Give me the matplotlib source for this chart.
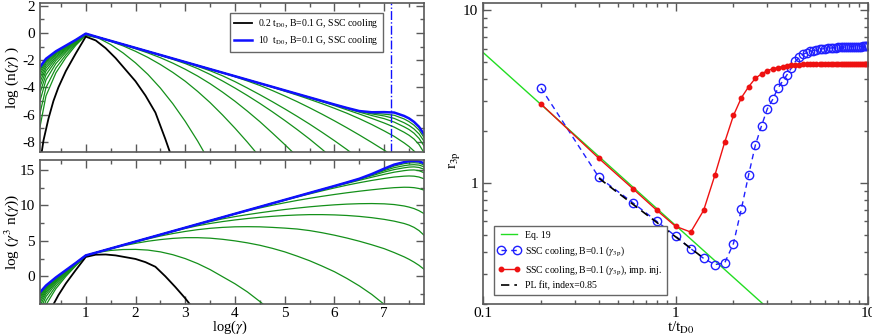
import numpy as np
import matplotlib
matplotlib.use("Agg")
import matplotlib.pyplot as plt
from matplotlib.ticker import MultipleLocator, FixedLocator, FixedFormatter, LogLocator, NullFormatter

plt.rcParams['font.family'] = ['Liberation Serif', 'DejaVu Serif']
plt.rcParams['mathtext.fontset'] = 'stix'
plt.rcParams['axes.unicode_minus'] = False

# ---------------- left panels: electron spectra, values of log(gamma^3 n(gamma)) ----------------
log_gamma = [0.08, 0.2, 0.4, 0.6, 0.8, 1.0, 1.25, 1.5, 1.75, 2.0, 2.25, 2.5, 2.75, 3.0,
             3.25, 3.5, 3.75, 4.0, 4.25, 4.5, 4.75, 5.0, 5.25, 5.5, 5.75, 6.0, 6.25,
             6.5, 6.75, 7.0, 7.2, 7.4, 7.5, 7.6, 7.7, 7.8]

log_gamma_black = [0.08, 0.15, 0.25, 0.35, 0.45, 0.6, 0.8, 1.0, 1.2, 1.4, 1.6, 1.8, 2.0,
                   2.2, 2.4, 2.6, 2.8, 3.0, 3.2]
g3n_black = [-9.36, -7.45, -5.55, -3.95, -2.65, -1.0, 0.9, 2.73, 3.05, 3.08, 2.95, 2.7,
             2.45, 2.0, 1.35, 0.0, -1.5, -3.1, -4.9]

g3n_green_1 = [-6.66, -4.03, -1.73, -0.01, 1.49, 2.82, 3.38, 3.65, 3.78, 3.8, 3.7, 3.45,
               3.05, 2.5, 1.8, 0.95, -0.05, -1.05, -2.2, -3.55, -5.0]
g3n_green_2 = [-5.66, -3.41, -1.37, 0.19, 1.58, 2.85, 3.42, 3.88, 4.3, 4.65, 4.95, 5.18,
               5.35, 5.45, 5.45, 5.38, 5.22, 5.0, 4.72, 4.38, 3.95, 3.45, 2.85, 2.2, 1.45,
               0.65, -0.3, -1.35, -2.55, -3.95, -5.1]
g3n_green_3 = [-4.76, -2.85, -1.05, 0.37, 1.66, 2.87, 3.43, 3.91, 4.38, 4.84, 5.28, 5.68,
               6.03, 6.33, 6.58, 6.77, 6.9, 6.98, 7.0, 6.98, 6.9, 6.8, 6.67, 6.45, 6.15,
               5.8, 5.4, 4.95, 4.45, 3.9, 3.35, 2.75, 2.4, 2.0, 1.55, 1.0]
g3n_green_4 = [-4.16, -2.48, -0.83, 0.49, 1.72, 2.89, 3.43, 3.92, 4.4, 4.89, 5.37, 5.85,
               6.31, 6.75, 7.13, 7.45, 7.72, 7.95, 8.15, 8.32, 8.46, 8.57, 8.65, 8.7, 8.7,
               8.66, 8.58, 8.45, 8.27, 8.03, 7.78, 7.45, 7.22, 6.9, 6.45, 5.8]
g3n_green_5 = [-3.71, -2.2, -0.67, 0.58, 1.76, 2.91, 3.43, 3.92, 4.41, 4.9, 5.39, 5.87,
               6.35, 6.83, 7.29, 7.72, 8.1, 8.42, 8.7, 8.96, 9.2, 9.42, 9.62, 9.8, 9.95,
               10.08, 10.18, 10.24, 10.26, 10.22, 10.12, 9.92, 9.76, 9.55, 9.25, 8.85]
g3n_green_6 = [-3.36, -1.98, -0.55, 0.65, 1.79, 2.92, 3.43, 3.92, 4.41, 4.9, 5.39, 5.88,
               6.37, 6.86, 7.35, 7.83, 8.31, 8.78, 9.22, 9.64, 10.02, 10.37, 10.7, 11.0,
               11.28, 11.54, 11.78, 12.0, 12.2, 12.38, 12.5, 12.56, 12.55, 12.5, 12.38, 12.15]
g3n_green_7 = [-3.06, -1.8, -0.44, 0.71, 1.82, 2.93, 3.43, 3.92, 4.41, 4.9, 5.39, 5.88,
               6.37, 6.86, 7.35, 7.84, 8.33, 8.82, 9.3, 9.78, 10.26, 10.72, 11.18, 11.62,
               12.05, 12.46, 12.85, 13.2, 13.52, 13.8, 14.0, 14.12, 14.15, 14.12, 14.0, 13.75]
g3n_green_8 = [-2.81, -1.64, -0.35, 0.76, 1.84, 2.93, 3.43, 3.92, 4.41, 4.9, 5.39, 5.88,
               6.37, 6.86, 7.35, 7.84, 8.33, 8.82, 9.31, 9.8, 10.28, 10.76, 11.24, 11.72,
               12.2, 12.66, 13.1, 13.54, 13.97, 14.38, 14.68, 14.9, 14.98, 15.0, 14.9, 14.6]
g3n_green_9 = [-2.61, -1.52, -0.28, 0.8, 1.86, 2.94, 3.43, 3.92, 4.41, 4.9, 5.39, 5.88,
               6.37, 6.86, 7.35, 7.84, 8.33, 8.82, 9.31, 9.8, 10.29, 10.78, 11.27, 11.76,
               12.24, 12.72, 13.2, 13.68, 14.18, 14.7, 15.05, 15.3, 15.4, 15.43, 15.35, 15.1]
g3n_green_10 = [-2.46, -1.42, -0.22, 0.83, 1.87, 2.94, 3.43, 3.92, 4.41, 4.9, 5.39, 5.88,
                6.37, 6.86, 7.35, 7.84, 8.33, 8.82, 9.31, 9.8, 10.29, 10.78, 11.27, 11.76,
                12.25, 12.73, 13.23, 13.73, 14.3, 14.9, 15.32, 15.6, 15.7, 15.74, 15.68, 15.45]
g3n_green_11 = [-2.36, -1.36, -0.19, 0.85, 1.88, 2.95, 3.43, 3.92, 4.41, 4.9, 5.39, 5.88,
                6.37, 6.86, 7.35, 7.84, 8.33, 8.82, 9.31, 9.8, 10.29, 10.78, 11.27, 11.76,
                12.25, 12.74, 13.24, 13.75, 14.36, 15.03, 15.55, 15.88, 15.98, 16.02, 15.96, 15.72]
g3n_blue = [-2.26, -1.3, -0.15, 0.87, 1.89, 2.95, 3.43, 3.92, 4.41, 4.9, 5.39, 5.88, 6.37,
            6.86, 7.35, 7.84, 8.33, 8.82, 9.31, 9.8, 10.29, 10.78, 11.27, 11.76, 12.25,
            12.74, 13.24, 13.76, 14.42, 15.18, 15.75, 16.1, 16.22, 16.26, 16.2, 15.95]

green_curves = [g3n_green_1, g3n_green_2, g3n_green_3, g3n_green_4, g3n_green_5,
                g3n_green_6, g3n_green_7, g3n_green_8, g3n_green_9, g3n_green_10,
                g3n_green_11]

log_gamma_cut = 7.14
label_black = r"0.2 t$_{\rm D0}$, B=0.1 G, SSC cooling"
label_blue = r"10  t$_{\rm D0}$, B=0.1 G, SSC cooling"

# ---------------- right panel: r_3p vs t/t_D0 ----------------
t_ssc = [round(0.2 * k, 1) for k in range(1, 51)]
r_ssc = [3.55, 1.08, 0.771, 0.601, 0.494, 0.418, 0.367, 0.338, 0.345, 0.447,
         0.711, 1.12, 1.66, 2.15, 2.69, 3.05, 3.53, 3.88, 4.24, 4.63,
         5.06, 5.35, 5.55, 5.68, 5.77, 5.84, 5.89, 5.94, 5.97, 6.0,
         6.02, 6.04, 6.06, 6.08, 6.09, 6.1, 6.11, 6.12, 6.13, 6.14,
         6.14, 6.15, 6.15, 6.16, 6.16, 6.16, 6.17, 6.17, 6.17, 6.17]
r_imp = [2.87, 1.39, 0.929, 0.696, 0.563, 0.521, 0.696, 1.107, 1.72, 2.46,
         3.12, 3.61, 4.04, 4.28, 4.47, 4.58, 4.66, 4.72, 4.77, 4.8,
         4.83, 4.85, 4.86, 4.87, 4.88, 4.88, 4.89, 4.89, 4.89, 4.9,
         4.9, 4.9, 4.9, 4.9, 4.9, 4.9, 4.9, 4.9, 4.9, 4.9,
         4.9, 4.9, 4.9, 4.9, 4.9, 4.9, 4.9, 4.9, 4.9, 4.9]
t_eq19 = [0.1, 10.0]
r_eq19 = [5.7, 0.057]
t_plfit = [0.4, 1.4]
r_plfit = [1.067, 0.368]

# ---------------- figure ----------------
W, H = 872, 335
fig = plt.figure(figsize=(W / 100, H / 100), dpi=100)

def fr(x0, y0, x1, y1):
    return [x0 / W, 1 - y1 / H, (x1 - x0) / W, (y1 - y0) / H]

ax_top = fig.add_axes(fr(40, 3, 424, 152))
ax_bot = fig.add_axes(fr(40, 160, 424, 304))
ax_r = fig.add_axes(fr(483, 3, 868, 304))

green = '#14901a'
spine_c = '0.35'

lg = np.array(log_gamma)
for g in green_curves:
    y3 = np.array(g)
    x = lg[:len(y3)]
    ax_top.plot(x, y3 - 3 * x, color=green, lw=0.9)
    ax_bot.plot(x, y3, color=green, lw=0.9)

xb = np.array(log_gamma_black)
yb = np.array(g3n_black)
ax_top.plot(xb, yb - 3 * xb, color='black', lw=1.3, label=label_black)
ax_bot.plot(xb, yb, color='black', lw=1.3)

yblue = np.array(g3n_blue)
ax_top.plot(lg, yblue - 3 * lg, color='#1010ff', lw=1.8, label=label_blue)
ax_bot.plot(lg, yblue, color='#1010ff', lw=1.8)
ax_top.axvline(log_gamma_cut, color='#1010ff', lw=1.0, ls='-.')

for ax in (ax_top, ax_bot):
    ax.set_xlim(0.08, 7.8)
    ax.xaxis.set_major_locator(MultipleLocator(1))
    ax.xaxis.set_minor_locator(MultipleLocator(0.5))
    ax.tick_params(which='both', direction='in', top=True, right=True,
                   labelsize=11, color=spine_c, width=1.0)
    ax.tick_params(which='major', length=6)
    ax.tick_params(which='minor', length=3)
    ax.tick_params(axis='x', pad=2)
    for s in ax.spines.values():
        s.set_color(spine_c)
        s.set_linewidth(1.2)

ax_top.set_ylim(-8.75, 2.2)
ax_top.yaxis.set_major_locator(MultipleLocator(2))
ax_top.yaxis.set_minor_locator(MultipleLocator(1))
ax_top.tick_params(labelbottom=False)
ax_top.set_ylabel(r"log (n($\gamma$) )", fontsize=11)
ax_top.yaxis.set_label_coords(-0.05, 0.5)
leg1 = ax_top.legend(loc='upper left', bbox_to_anchor=(0.482, 0.965), fontsize=7,
                     frameon=True, fancybox=False, edgecolor='0.4', framealpha=1,
                     handlelength=1.8, handletextpad=0.6, borderpad=0.45, labelspacing=0.4)
leg1.get_frame().set_linewidth(1.0)

ax_bot.set_ylim(-3.9, 16.4)
ax_bot.yaxis.set_major_locator(MultipleLocator(5))
ax_bot.yaxis.set_minor_locator(MultipleLocator(2.5))
ax_bot.set_xticks([1, 2, 3, 4, 5, 6, 7])
ax_bot.set_xlabel(r"log($\gamma$)", fontsize=10.5, labelpad=0)
ax_bot.xaxis.set_label_coords(0.495, -0.1)
ax_bot.set_ylabel(r"log ($\gamma^3$ n($\gamma$))", fontsize=11)
ax_bot.yaxis.set_label_coords(-0.05, 0.5)

# right panel
ax_r.plot(t_eq19, r_eq19, color='#22dd22', lw=1.0, label='Eq. 19')
ax_r.plot(t_ssc, r_ssc, color='#2020ff', lw=1.0, ls=(0, (4, 3)), marker='o', ms=6,
          mfc='none', mec='#2020ff', mew=1.0, label=r"SSC cooling, B=0.1 ($\gamma_{\rm 3p}$)")
ax_r.plot(t_ssc, r_imp, color='#ee1111', lw=1.0, marker='o', ms=3.2,
          mfc='#ee1111', mec='#ee1111',
          label=r"SSC cooling, B=0.1 ($\gamma_{\rm 3p}$), imp. inj.")
ax_r.plot(t_plfit, r_plfit, color='black', lw=1.2, ls=(0, (5, 3)), label='PL fit, index=0.85')
ax_r.set_xscale('log')
ax_r.set_yscale('log')
ax_r.set_xlim(0.1, 10)
ax_r.set_ylim(0.2, 11)
ax_r.xaxis.set_major_locator(FixedLocator([0.1, 1, 10]))
ax_r.xaxis.set_major_formatter(FixedFormatter(['0.1', '1', '10']))
ax_r.xaxis.set_minor_locator(LogLocator(base=10, subs=np.arange(2, 10), numticks=20))
ax_r.xaxis.set_minor_formatter(NullFormatter())
ax_r.yaxis.set_major_locator(FixedLocator([1, 10]))
ax_r.yaxis.set_major_formatter(FixedFormatter(['1', '10']))
ax_r.yaxis.set_minor_locator(LogLocator(base=10, subs=np.arange(2, 10), numticks=20))
ax_r.yaxis.set_minor_formatter(NullFormatter())
ax_r.tick_params(which='both', direction='in', top=True, right=True, labelsize=11,
                 color=spine_c, width=1.0)
ax_r.tick_params(which='major', length=6)
ax_r.tick_params(which='minor', length=3)
ax_r.tick_params(axis='x', pad=2)
for s in ax_r.spines.values():
    s.set_color(spine_c)
    s.set_linewidth(1.2)
ax_r.set_xlabel(r"t/t$_{\rm D0}$", fontsize=11)
ax_r.xaxis.set_label_coords(0.515, -0.053)
ax_r.set_ylabel(r"r$_{\rm 3p}$", fontsize=11)
ax_r.yaxis.set_label_coords(-0.055, 0.478)
leg2 = ax_r.legend(loc='upper left', bbox_to_anchor=(0.0156, 0.274), fontsize=7,
                   frameon=True, fancybox=False, edgecolor='0.4', framealpha=1,
                   numpoints=2, handlelength=2.2, handletextpad=0.6, borderpad=0.45,
                   labelspacing=0.45)
leg2.get_frame().set_linewidth(1.0)

fig.savefig('out.png', dpi=100)
